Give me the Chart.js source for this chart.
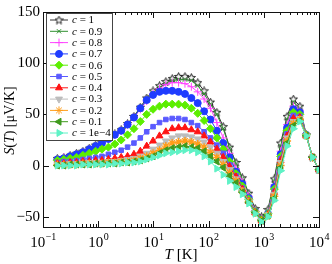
<!DOCTYPE html>
<html>
<head>
<meta charset="utf-8">
<script src="https://cdn.jsdelivr.net/npm/chart.js@4.4.1/dist/chart.umd.min.js"></script>
<style>
  html, body { margin: 0; padding: 0; background: #fff; }
  #wrap { width: 332px; height: 264px; }
</style>
</head>
<body>
<div id="wrap"><canvas id="seebeck"></canvas></div>
<script>
// temperatures (K)
const temps = [0.182, 0.238, 0.31, 0.404, 0.528, 0.689, 0.899, 1.17, 1.53, 2.0,
  2.61, 3.4, 4.44, 5.79, 7.56, 9.86, 12.9, 16.8, 21.9, 28.6,
  37.3, 48.7, 63.5, 82.9, 108, 141, 184, 240, 314, 409,
  535, 698, 910, 1190, 1550, 2020, 2640, 3440, 4500, 5860,
  7650, 10000]

// S(T) in µV/K for each concentration c
const sC10 = [7, 8, 10, 12, 14, 17, 20, 23, 27, 31, 35, 41, 48, 57, 66, 73, 78, 82, 85, 87, 87, 86, 81, 73, 62, 52, 38, 18, 3, -12, -27, -42, -50, -43, -13, 22, 48, 65, 58, 30, 8, -4]
const sC09 = [7, 8, 10, 12, 14, 17, 20, 23, 27, 31, 35, 41, 48, 56, 64, 71, 76, 80, 83, 84, 84, 83, 78, 70, 60, 50, 36, 17, 2, -13, -28, -43, -51, -44, -15, 19, 45, 62, 56, 30, 8, -4]
const sC08 = [6, 8, 9, 11, 13, 16, 19, 22, 26, 30, 34, 40, 47, 55, 63, 70, 75, 79, 81, 81, 80, 77, 72, 65, 56, 42, 27, 12, -3, -16, -30, -44, -52, -46, -19, 14, 40, 58, 54, 30, 8, -4]
const sC07 = [6, 7, 9, 11, 13, 16, 19, 22, 26, 30, 34, 40, 47, 56, 64, 69, 72, 73, 73, 72, 70, 66, 61, 53, 45, 34, 22, 8, -6, -18, -32, -45, -53, -47, -21, 11, 37, 55, 52, 30, 8, -4]
const sC06 = [5, 6, 7, 8, 10, 12, 14, 16, 18, 21, 25, 30, 36, 43, 50, 55, 58, 60, 60, 60, 59, 56, 51, 44, 36, 27, 16, 4, -8, -20, -33, -45, -53, -47, -23, 9, 34, 52, 50, 30, 8, -4]
const sC05 = [3, 4, 4, 5, 6, 7, 8, 9, 11, 13, 15, 18, 22, 27, 33, 38, 42, 45, 46, 46, 45, 42, 39, 33, 27, 20, 12, 1, -10, -22, -34, -46, -54, -48, -25, 7, 31, 49, 48, 29, 8, -4]
const sC04 = [2, 2, 3, 3, 4, 4, 5, 5, 6, 7, 8, 9, 11, 14, 19, 24, 29, 33, 36, 37, 37, 35, 33, 29, 23, 16, 8, -1, -11, -23, -35, -46, -54, -48, -26, 5, 29, 46, 47, 29, 8, -4]
const sC03 = [1, 1, 2, 2, 2, 3, 3, 3, 4, 4, 5, 6, 7, 9, 12, 16, 20, 24, 27, 29, 29, 28, 26, 23, 18, 12, 4, -4, -13, -24, -35, -46, -54, -48, -28, 3, 27, 43, 46, 29, 8, -4]
const sC02 = [1, 1, 1, 1, 2, 2, 2, 2, 3, 3, 4, 4, 5, 7, 9, 12, 15, 19, 22, 23, 24, 23, 21, 18, 13, 8, 1, -7, -15, -25, -35, -46, -54, -49, -30, 0, 24, 41, 45, 29, 8, -4]
const sC01 = [0, 0, 1, 1, 1, 1, 2, 2, 2, 2, 3, 3, 4, 5, 7, 9, 12, 15, 17, 18, 19, 18, 17, 14, 9, 4, -2, -10, -17, -26, -36, -46, -54, -49, -32, -2, 22, 39, 44, 29, 8, -4]
const sC0 = [0, 0, 0, 0, 1, 1, 1, 1, 1, 2, 2, 3, 3, 4, 6, 8, 10, 12, 13, 14, 15, 15, 13, 9, 4, -3, -9, -15, -21, -28, -37, -47, -55, -50, -34, -5, 19, 36, 43, 29, 8, -4]

const seriesLabels = ["1", "0.9", "0.8", "0.7", "0.6", "0.5", "0.4", "0.3", "0.2", "0.1", "1e\u22124"]
const seriesValues = [sC10, sC09, sC08, sC07, sC06, sC05, sC04, sC03, sC02, sC01, sC0]

const xDecades = [0.1, 1, 10, 100, 1000, 10000]
const yTickValues = [-50, 0, 50, 100, 150]

const SERIF = '"Liberation Serif", "DejaVu Serif", serif'

// hollow pentagram for c = 1
const makeStar = (stroke) => {
  const c = document.createElement("canvas")
  c.width = 9
  c.height = 9
  const g = c.getContext("2d")
  g.beginPath()
  for (let k = 0; k < 10; k++) {
    const r = k % 2 === 0 ? 4.2 : 1.9
    const a = -Math.PI / 2 + (k * Math.PI) / 5
    const px = 4.5 + r * Math.cos(a)
    const py = 4.8 + r * Math.sin(a)
    if (k === 0) g.moveTo(px, py)
    else g.lineTo(px, py)
  }
  g.closePath()
  g.fillStyle = "#f2f2f2"
  g.fill()
  g.strokeStyle = stroke
  g.lineWidth = 1
  g.stroke()
  return c
}

const styles = [
  { color: "#333333", point: makeStar("#222"), radius: 4.5, rotation: 0 },
  { color: "#2f8f2f", point: "crossRot", radius: 3, rotation: 0 },
  { color: "#ff44ff", point: "cross", radius: 4, rotation: 0 },
  { color: "#1f3cff", point: "circle", radius: 3.5, rotation: 0 },
  { color: "#5cee00", point: "rectRot", radius: 4, rotation: 0 },
  { color: "#5a5aff", point: "rect", radius: 3.2, rotation: 0 },
  { color: "#ff1414", point: "triangle", radius: 4, rotation: 0 },
  { color: "#bdbdbd", point: "triangle", radius: 4, rotation: 180 },
  { color: "#ff9d1a", point: "star", radius: 4, rotation: 0 },
  { color: "#3f9a1e", point: "triangle", radius: 4, rotation: 270 },
  { color: "#5ff2c6", point: "triangle", radius: 4, rotation: 90 },
]

const datasets = seriesValues.map((vals, i) => ({
  label: "c = " + seriesLabels[i],
  data: temps.map((t, k) => ({ x: t, y: vals[k] })),
  borderColor: styles[i].color,
  backgroundColor: styles[i].color,
  borderWidth: 1,
  pointStyle: styles[i].point,
  pointRadius: styles[i].radius,
  pointRotation: styles[i].rotation,
  pointBorderWidth: i === 8 ? 1.4 : 1,
  pointBackgroundColor: styles[i].color,
  pointBorderColor: styles[i].color,
  order: seriesValues.length - i,
  tension: 0,
}))

const drawMarker = (ctx, st, x, y) => {
  ctx.fillStyle = st.color
  ctx.strokeStyle = st.color
  ctx.lineWidth = 1
  if (Chart.helpers && Chart.helpers.drawPoint) {
    Chart.helpers.drawPoint(ctx, { pointStyle: st.point, rotation: st.rotation, radius: st.radius, borderWidth: 1 }, x, y)
  } else {
    ctx.beginPath()
    ctx.arc(x, y, st.radius, 0, Math.PI * 2)
    ctx.fill()
  }
}

const decorations = {
  id: "decorations",
  afterDraw(chart) {
    const { ctx, chartArea: a, scales } = chart
    const xs = scales.x
    const ys = scales.y
    ctx.save()

    // frame
    ctx.strokeStyle = "#111"
    ctx.lineWidth = 1
    ctx.strokeRect(Math.round(a.left) + 0.5, Math.round(a.top) + 0.5, Math.round(a.right - a.left), Math.round(a.bottom - a.top))

    // x ticks, inward, top and bottom
    ctx.beginPath()
    xDecades.forEach((d) => {
      for (let m = 1; m <= 9; m++) {
        const v = d * m
        if (v > xDecades[xDecades.length - 1]) break
        const px = Math.round(xs.getPixelForValue(v)) + 0.5
        const len = m === 1 ? 6 : 3
        ctx.moveTo(px, a.bottom)
        ctx.lineTo(px, a.bottom - len)
        ctx.moveTo(px, a.top)
        ctx.lineTo(px, a.top + len)
      }
    })
    // y ticks, inward, left and right
    yTickValues.forEach((v) => {
      const py = Math.round(ys.getPixelForValue(v)) + 0.5
      ctx.moveTo(a.left, py)
      ctx.lineTo(a.left + 6, py)
      ctx.moveTo(a.right, py)
      ctx.lineTo(a.right - 6, py)
    })
    ctx.stroke()

    // x tick labels 10^n
    ctx.fillStyle = "#000"
    ctx.textBaseline = "alphabetic"
    ctx.textAlign = "left"
    xDecades.forEach((d) => {
      const e = Math.round(Math.log10(d))
      const exp = e < 0 ? "\u2212" + -e : String(e)
      ctx.font = "15px " + SERIF
      const wb = ctx.measureText("10").width
      ctx.font = "10px " + SERIF
      const we = ctx.measureText(exp).width
      const px = xs.getPixelForValue(d)
      const x0 = px - (wb + we) / 2
      ctx.font = "15px " + SERIF
      ctx.fillText("10", x0, a.bottom + 20)
      ctx.font = "10px " + SERIF
      ctx.fillText(exp, x0 + wb + 0.5, a.bottom + 13)
    })

    const parts = (list, x, y) => {
      let cx = x
      list.forEach(([txt, font]) => {
        ctx.font = font
        ctx.fillText(txt, cx, y)
        cx += ctx.measureText(txt).width
      })
      return cx - x
    }
    const measure = (list) =>
      list.reduce((s, [txt, font]) => {
        ctx.font = font
        return s + ctx.measureText(txt).width
      }, 0)

    // x title: T [K]
    const xt = [["T", "italic 15px " + SERIF], [" [K]", "15px " + SERIF]]
    const cx = (a.left + a.right) / 2
    parts(xt, cx - measure(xt) / 2, a.bottom + 32)

    // y title: S(T) [µV/K]
    const yt = [
      ["S", "italic 14px " + SERIF],
      ["(", "14px " + SERIF],
      ["T", "italic 14px " + SERIF],
      [")", "14px " + SERIF],
      [" [\u03bcV/K]", "14px " + SERIF],
    ]
    ctx.save()
    ctx.translate(14, (a.top + a.bottom) / 2 + 1)
    ctx.rotate(-Math.PI / 2)
    parts(yt, -measure(yt) / 2, 0)
    ctx.restore()

    // legend box
    const lx = a.left + 3
    const ly = a.top + 1
    const rowH = 11.3
    const boxW = 66
    const boxH = rowH * seriesLabels.length + 3
    ctx.fillStyle = "#fff"
    ctx.fillRect(lx, ly, boxW, boxH)
    ctx.strokeStyle = "#444"
    ctx.lineWidth = 1
    ctx.strokeRect(Math.round(lx) + 0.5, Math.round(ly) + 0.5, boxW, Math.round(boxH))

    seriesLabels.forEach((lab, i) => {
      const st = styles[i]
      const ry = ly + 7 + i * rowH
      ctx.strokeStyle = st.color
      ctx.lineWidth = 1
      ctx.beginPath()
      ctx.moveTo(lx + 4, ry)
      ctx.lineTo(lx + 22, ry)
      ctx.stroke()
      drawMarker(ctx, st, lx + 13, ry)
      ctx.fillStyle = "#000"
      ctx.textBaseline = "middle"
      ctx.textAlign = "left"
      parts([["c", "italic 11px " + SERIF], [" = " + lab, "11px " + SERIF]], lx + 26, ry + 0.5)
    })

    ctx.restore()
  },
}

new Chart(document.getElementById("seebeck"), {
  type: "line",
  data: { datasets },
  options: {
    responsive: true,
    maintainAspectRatio: false,
    animation: false,
    layout: { padding: { top: 10, right: 13, left: 0, bottom: 0 } },
    plugins: {
      legend: { display: false },
      tooltip: { enabled: false },
    },
    scales: {
      x: {
        type: "logarithmic",
        min: 0.1,
        max: 10000,
        grid: { display: false, drawTicks: false },
        border: { display: false },
        ticks: { display: false },
        afterBuildTicks: (s) => {
          s.ticks = xDecades.map((v) => ({ value: v }))
        },
        afterFit: (s) => {
          s.height = 37
        },
      },
      y: {
        type: "linear",
        min: -60,
        max: 150,
        grid: { display: false, drawTicks: false },
        border: { display: false },
        ticks: {
          color: "#000",
          padding: 3,
          font: { family: SERIF, size: 15 },
          callback: (v) => (v < 0 ? "\u2212" + -v : String(v)),
        },
        afterBuildTicks: (s) => {
          s.ticks = yTickValues.map((v) => ({ value: v }))
        },
        afterFit: (s) => {
          s.width = 43
        },
      },
    },
  },
  plugins: [decorations],
})
</script>
</body>
</html>
